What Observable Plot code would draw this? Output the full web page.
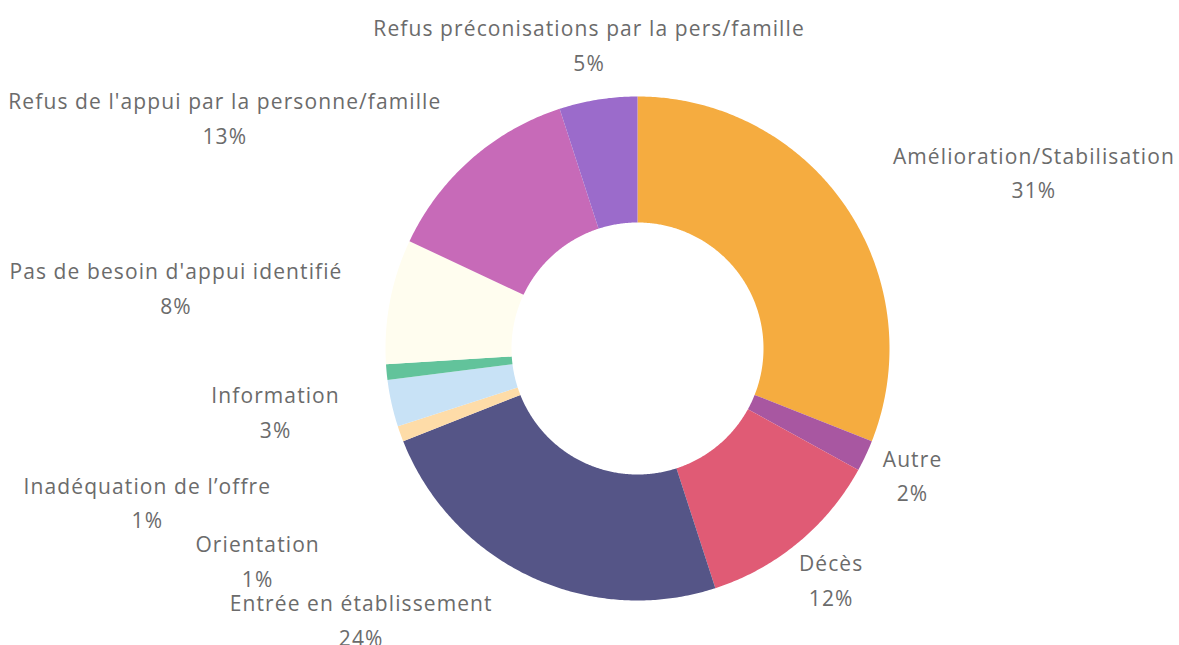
<!DOCTYPE html>
<html><head><meta charset="utf-8">
<script src="https://cdn.jsdelivr.net/npm/d3@7"></script>
<script src="https://cdn.jsdelivr.net/npm/@observablehq/plot@0.6"></script>
<style>html,body{margin:0;padding:0;background:#fff}svg{display:block}</style>
</head><body><div id="chart"></div>
<script>
// ---- data ----
const categories = [
  "Amélioration/Stabilisation",
  "Autre",
  "Décès",
  "Entrée en établissement",
  "Inadéquation de l’offre",
  "Information",
  "Orientation",
  "Pas de besoin d'appui identifié",
  "Refus de l'appui par la personne/famille",
  "Refus préconisations par la pers/famille"
];
const values = [31, 2, 12, 24, 1, 3, 1, 8, 13, 5];
const colors = ["#F5AC40", "#A857A1", "#E05B75", "#555587", "#FEDCA8",
                "#C8E2F6", "#62C39B", "#FFFDEF", "#C76AB8", "#9B6BCB"];
// label layout nudges (px) from the slice's outer mid-point
const labelNudges = [[188,-37],[47,17],[33,35],[-169,41],[-253,66],
                     [-116,6],[-129,186],[-214,-16],[-246,-44],[-9,-57]];

// ---- geometry (data space: unit circle) ----
const innerRatio = 0.5;
const rows = categories.map((c, i) => ({cat: c, value: values[i]}));
const arcs = d3.pie().sort(null).value(d => d.value)(rows);

const pts = [];
for (const a of arcs) {
  const n = Math.max(2, Math.ceil((a.endAngle - a.startAngle) / (Math.PI / 360)));
  for (let k = 0; k <= n; k++) {
    const t = a.startAngle + (a.endAngle - a.startAngle) * k / n;
    pts.push({cat: a.data.cat, x: Math.sin(t), y: Math.cos(t)});
  }
  for (let k = n; k >= 0; k--) {
    const t = a.startAngle + (a.endAngle - a.startAngle) * k / n;
    pts.push({cat: a.data.cat, x: innerRatio * Math.sin(t), y: innerRatio * Math.cos(t)});
  }
}

const total = d3.sum(values);
const labelMarks = arcs.map((a, i) => {
  const m = (a.startAngle + a.endAngle) / 2;
  const pct = Math.round(a.data.value / total * 100);
  return Plot.text([{x: Math.sin(m), y: Math.cos(m), t: `${a.data.cat}\n${pct}%`}], {
    x: "x", y: "y", text: "t",
    dx: labelNudges[i][0], dy: labelNudges[i][1],
    textAnchor: "middle", lineHeight: 1.65,
    fontSize: 21, fill: "#6b6b6b",
    fontFamily: "'Open Sans', sans-serif"
  });
});

const chart = Plot.plot({
  width: 1179,
  height: 645,
  marginLeft: 385,
  marginRight: 290,
  marginTop: 96,
  marginBottom: 45,
  x: {domain: [-1, 1], axis: null},
  y: {domain: [-1, 1], axis: null},
  color: {domain: categories, range: colors},
  style: {background: "#fff", overflow: "visible", letterSpacing: "1.1px"},
  marks: [
    Plot.line(pts, {x: "x", y: "y", z: "cat", fill: "cat", stroke: null, curve: "linear"}),
    ...labelMarks
  ]
});
document.getElementById("chart").appendChild(chart);
</script>
</body></html>
